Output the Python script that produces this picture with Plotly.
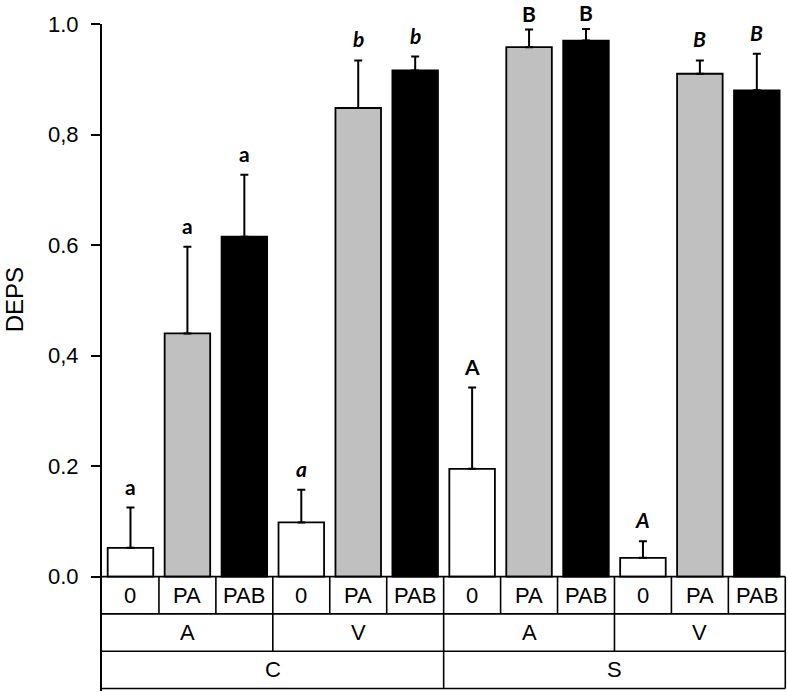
import plotly.graph_objects as go

treat = ["0", "PA", "PAB"] * 4
mid = ["A", "V", "A", "V"]
top = ["C", "S"]
values = [0.052, 0.440, 0.615, 0.098, 0.848, 0.916, 0.195, 0.958, 0.970, 0.034, 0.910, 0.880]
upper = [0.125, 0.597, 0.727, 0.157, 0.934, 0.941, 0.342, 0.990, 0.991, 0.064, 0.934, 0.946]
letters = ["a", "a", "a", "a", "b", "b", "A", "B", "B", "A", "B", "B"]
italic = [False, False, False, True, True, True, False, False, False, True, True, True]
fills = ["white", "#c0c0c0", "black"] * 4
yticks = [0.0, 0.2, 0.4, 0.6, 0.8, 1.0]
yticktext = ["0.0", "0.2", "0,4", "0.6", "0,8", "1.0"]

n = len(values)
xs = list(range(n))
H = 0.0675  # table row height in y units

fig = go.Figure()
fig.add_trace(go.Bar(
    x=xs, y=values, width=0.8,
    marker=dict(color=fills, line=dict(color="black", width=1.8)),
    error_y=dict(type="data", symmetric=False,
                 array=[u - v for u, v in zip(upper, values)],
                 arrayminus=[0] * n, color="black", thickness=2, width=4),
    showlegend=False, hoverinfo="skip",
))

ann = []
for i in xs:
    t = "<b>" + (f"<i>{letters[i]}</i>" if italic[i] else letters[i]) + "</b>"
    ann.append(dict(x=i, y=upper[i], xref="x", yref="y", text=t, showarrow=False,
                    yanchor="bottom", yshift=7 if upper[i] < 0.98 else 2,
                    font=dict(family="Lato, Liberation Sans, Arial", size=21, color="black")))

tf = dict(family="Liberation Sans, Arial", size=22, color="black")
shapes = []
line = dict(color="black", width=1.6)
for r in range(4):
    shapes.append(dict(type="line", xref="x", yref="y", x0=-0.5, x1=n - 0.5,
                       y0=-r * H, y1=-r * H, line=line))
shapes.append(dict(type="line", xref="x", yref="y", x0=n - 0.5, x1=n - 0.5,
                   y0=0, y1=-3 * H, line=line))
for i in xs:
    if i < n - 1:
        shapes.append(dict(type="line", xref="x", yref="y", x0=i + 0.5, x1=i + 0.5,
                           y0=0, y1=-H, line=line))
    ann.append(dict(x=i, y=-0.5 * H, xref="x", yref="y", text=treat[i], showarrow=False,
                    font=tf))
for j, lab in enumerate(mid):
    if j < len(mid) - 1:
        xx = 3 * j + 2.5
        shapes.append(dict(type="line", xref="x", yref="y", x0=xx, x1=xx,
                           y0=-H, y1=-2 * H, line=line))
    ann.append(dict(x=3 * j + 1, y=-1.5 * H, xref="x", yref="y", text=lab, showarrow=False,
                    font=tf))
for k, lab in enumerate(top):
    if k < len(top) - 1:
        xx = 6 * k + 5.5
        shapes.append(dict(type="line", xref="x", yref="y", x0=xx, x1=xx,
                           y0=-2 * H, y1=-3 * H, line=line))
    ann.append(dict(x=6 * k + 2.5, y=-2.5 * H, xref="x", yref="y", text=lab, showarrow=False,
                    font=tf))

ann.append(dict(x=0, y=0.5, xref="paper", yref="y", text="DEPS", showarrow=False,
                textangle=-90, xanchor="center", yanchor="middle", xshift=-88,
                font=dict(family="Liberation Sans, Arial", size=24, color="black")))

fig.update_layout(
    width=788, height=692,
    margin=dict(l=102, r=1, t=24, b=1),
    plot_bgcolor="white", paper_bgcolor="white",
    annotations=ann, shapes=shapes,
    xaxis=dict(range=[-0.5, n - 0.5 + 0.03], showticklabels=False, showgrid=False,
               zeroline=False, showline=False, ticks=""),
    yaxis=dict(range=[-0.207, 1.0], tickvals=yticks, ticktext=yticktext,
               ticks="outside", ticklen=9, tickwidth=2, tickcolor="black",
               showline=True, linecolor="black", linewidth=2,
               showgrid=False, zeroline=False, ticklabelstandoff=8,
               tickfont=dict(family="Liberation Sans, Arial", size=22, color="black")),
)

fig.write_html("out.html", config={"displayModeBar": False},
               post_script="document.body.style.margin='0px';document.body.style.overflow='hidden';")
